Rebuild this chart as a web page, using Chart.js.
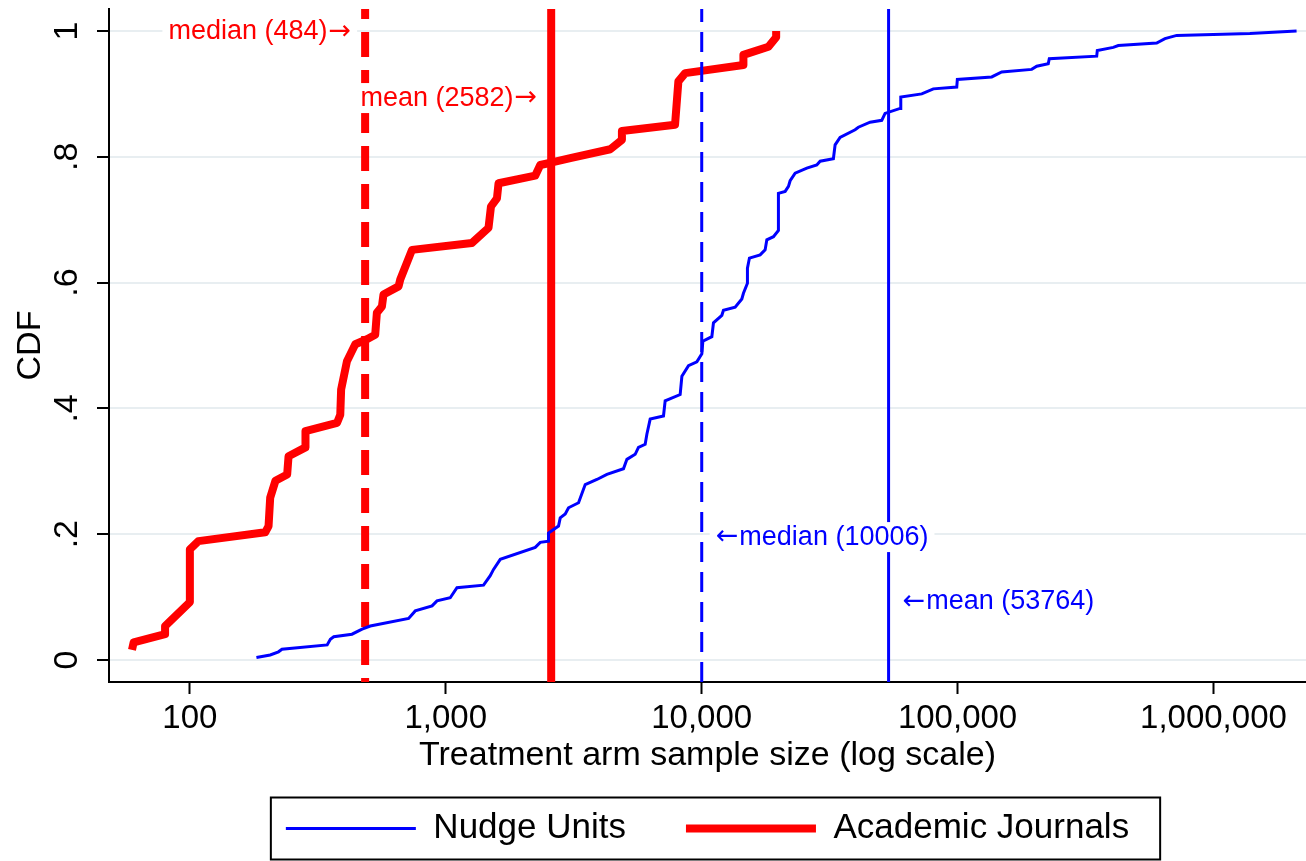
<!DOCTYPE html>
<html lang="en">
<head>
<meta charset="UTF-8">
<title>CDF of treatment arm sample size</title>
<script src="https://cdn.jsdelivr.net/npm/chart.js"></script>
<style>
  html, body { margin: 0; padding: 0; background: #fff; }
  #wrap { width: 1306px; height: 861px; }
</style>
</head>
<body>
<div id="wrap"><canvas id="cdfChart"></canvas></div>
<script>
  // Nudge Units: treatment arm sample size and CDF
  const nudgeN = [182, 206, 222, 229, 344, 354, 365, 430, 471, 507, 716, 760, 884, 924, 1041,
    1106, 1405, 1492, 1537, 1633, 2237, 2340, 2521, 2521, 2758, 2801, 2930, 3018, 3303, 3507,
    3896, 4263, 4949, 5104, 5498, 5664, 6016, 6108, 6293, 7093, 7201, 8241, 8370, 8883, 9578,
    10018, 10109, 10960, 11121, 11993, 12168, 13519, 14356, 14565, 15098, 15098, 15372, 16927, 17702, 17977,
    19080, 19953, 19953, 21200, 21840, 22170, 23190, 25760, 28180, 29040, 32720, 33230, 34750, 39780, 40970,
    45520, 50560, 52090, 59630, 60000, 72470, 80440, 99290, 99820, 136000, 148800, 194900, 203900, 226200, 228300,
    349800, 351700, 406100, 424800, 600000, 646500, 718400, 1388000, 2113000];
  const nudgeCdf = [0.004, 0.008, 0.013, 0.017, 0.024, 0.033, 0.037, 0.041, 0.049, 0.054, 0.066, 0.078, 0.086, 0.094, 0.099,
    0.115, 0.119, 0.134, 0.144, 0.16, 0.179, 0.187, 0.189, 0.202, 0.213, 0.226, 0.232, 0.242, 0.25, 0.279,
    0.287, 0.295, 0.304, 0.319, 0.327, 0.338, 0.343, 0.359, 0.383, 0.388, 0.412, 0.422, 0.451, 0.468, 0.474,
    0.487, 0.507, 0.514, 0.536, 0.548, 0.556, 0.561, 0.574, 0.583, 0.599, 0.623, 0.639, 0.644, 0.652, 0.668,
    0.673, 0.683, 0.742, 0.745, 0.753, 0.762, 0.774, 0.782, 0.787, 0.793, 0.797, 0.819, 0.831, 0.843, 0.847,
    0.855, 0.858, 0.869, 0.877, 0.895, 0.9, 0.908, 0.911, 0.923, 0.927, 0.935, 0.939, 0.944, 0.948, 0.956,
    0.96, 0.969, 0.974, 0.977, 0.981, 0.988, 0.993, 0.996, 1.0];

  // Academic Journals
  const journalN = [59.4, 60.3, 80, 80, 100, 100, 108, 197, 203, 206, 216, 240, 243, 283, 283,
    376, 387, 390, 411, 443, 492, 530, 538, 563, 571, 654, 664, 738, 1265, 1469,
    1502, 1585, 1608, 2236, 2340, 2600, 3065, 4395, 4880, 4880, 7870, 8110, 8625, 14560, 14560,
    18240, 19550, 19550];
  const journalCdf = [0.016, 0.028, 0.041, 0.054, 0.092, 0.176, 0.189, 0.203, 0.213, 0.258, 0.285, 0.295, 0.324, 0.338, 0.364,
    0.377, 0.39, 0.43, 0.475, 0.502, 0.51, 0.517, 0.552, 0.562, 0.581, 0.594, 0.605, 0.652, 0.663, 0.687,
    0.721, 0.734, 0.758, 0.77, 0.787, 0.791, 0.798, 0.812, 0.827, 0.841, 0.851, 0.92, 0.933, 0.946, 0.962,
    0.975, 0.99, 1.0];

  const xTicks = [100, 1000, 10000, 100000, 1000000];
  const yTicks = [0, 0.2, 0.4, 0.6, 0.8, 1];
  const xMin = 48.3, xMax = 2300000;
  const yMin = -0.035, yMax = 1.035;

  // median / mean reference lines
  const refNames = ['median', 'mean', 'median', 'mean'];
  const refValues = [484, 2582, 10006, 53764];
  const refGroup = ['journal', 'journal', 'nudge', 'nudge'];
  const refLabelY = [1.0, 0.895, 0.197, 0.094];

  const RED = '#ff0000';
  const BLUE = '#0000ff';
  const FONT = '"Liberation Sans", Arial, Helvetica, sans-serif';

  Chart.defaults.font.family = FONT;
  Chart.defaults.color = '#000';

  function toPoints(xs, ys) {
    return xs.map((v, i) => ({ x: v, y: ys[i] }));
  }

  function refLine(i) {
    const journal = refGroup[i] === 'journal';
    const dashed = refNames[i] === 'median';
    return {
      data: [{ x: refValues[i], y: yMax }, { x: refValues[i], y: yMin }],
      borderColor: journal ? RED : BLUE,
      borderWidth: journal ? 8 : 3,
      borderDash: dashed ? (journal ? [25, 13] : [20, 10]) : [],
      borderDashOffset: dashed ? (journal ? 15 : 7) : 0,
      borderCapStyle: 'butt',
      pointRadius: 0,
      order: journal ? 2 : 1
    };
  }

  // white-backed text next to the reference lines; arrow glyph from DejaVu (wider arrows)
  const refLabels = {
    id: 'refLabels',
    afterDatasetsDraw(chart) {
      const { ctx, scales: { x, y } } = chart;
      const textFont = '27px ' + FONT;
      const arrowFont = '27px "DejaVu Sans", sans-serif';
      ctx.save();
      ctx.textBaseline = 'middle';
      ctx.textAlign = 'left';
      refValues.forEach((v, i) => {
        const journal = refGroup[i] === 'journal';
        const text = `${refNames[i]} (${v})`;
        const arrow = journal ? '\u2192' : '\u2190';
        ctx.font = textFont;
        const tw = ctx.measureText(text).width;
        ctx.font = arrowFont;
        const aw = ctx.measureText(arrow).width;
        const w = tw + aw + 1;
        const px = x.getPixelForValue(v);
        const py = y.getPixelForValue(refLabelY[i]) + 1;
        const left = journal ? px - 14 - w : px + 14;
        ctx.fillStyle = '#fff';
        ctx.fillRect(left - 6, py - 15, w + 12, 30);
        ctx.fillStyle = journal ? RED : BLUE;
        if (journal) {
          ctx.font = textFont;
          ctx.fillText(text, left, py);
          ctx.font = arrowFont;
          ctx.fillText(arrow, left + tw + 1, py);
        } else {
          ctx.font = arrowFont;
          ctx.fillText(arrow, left, py);
          ctx.font = textFont;
          ctx.fillText(text, left + aw + 1, py);
        }
      });
      ctx.restore();
    }
  };

  // frame around the legend
  const legendFrame = {
    id: 'legendFrame',
    afterDraw(chart) {
      const boxes = chart.legend && chart.legend.legendHitBoxes;
      if (!boxes || !boxes.length) return;
      const left = Math.min(...boxes.map(b => b.left)) - 15;
      const right = Math.max(...boxes.map(b => b.left + b.width)) + 31;
      const cy = boxes[0].top + boxes[0].height / 2;
      const ctx = chart.ctx;
      ctx.save();
      ctx.strokeStyle = '#000';
      ctx.lineWidth = 2;
      ctx.strokeRect(left, cy - 31, right - left, 62);
      ctx.restore();
    }
  };

  new Chart(document.getElementById('cdfChart'), {
    type: 'line',
    data: {
      datasets: [
        {
          label: 'Nudge Units',
          data: toPoints(nudgeN, nudgeCdf),
          borderColor: BLUE,
          backgroundColor: BLUE,
          borderWidth: 3,
          pointRadius: 0,
          order: 0
        },
        {
          label: 'Academic Journals',
          data: toPoints(journalN, journalCdf),
          borderColor: RED,
          backgroundColor: RED,
          borderWidth: 8,
          borderJoinStyle: 'round',
          pointRadius: 0,
          order: 3
        },
        refLine(0), refLine(1), refLine(2), refLine(3)
      ]
    },
    options: {
      responsive: true,
      maintainAspectRatio: false,
      animation: false,
      layout: { padding: { top: 9, right: 0, bottom: 5, left: 0 } },
      plugins: {
        tooltip: { enabled: false },
        legend: {
          position: 'bottom',
          fullSize: false,
          labels: {
            filter: item => item.datasetIndex < 2,
            usePointStyle: true,
            pointStyle: 'line',
            pointStyleWidth: 130,
            padding: 60,
            color: '#000',
            font: { size: 35 }
          }
        }
      },
      scales: {
        x: {
          type: 'logarithmic',
          min: xMin,
          max: xMax,
          afterBuildTicks: s => { s.ticks = xTicks.map(v => ({ value: v, major: true })); },
          ticks: {
            autoSkip: false,
            maxRotation: 0,
            padding: 5,
            color: '#000',
            font: { size: 33 },
            callback: v => Number(v).toLocaleString('en-US')
          },
          grid: { drawOnChartArea: false, tickLength: 12, tickColor: '#000', tickWidth: 2 },
          border: { color: '#000', width: 2 },
          title: {
            display: true,
            text: 'Treatment arm sample size (log scale)',
            color: '#000',
            font: { size: 34 },
            padding: { top: 0, bottom: -25 }
          },
          afterFit: s => { s.height = 69; s.paddingLeft = 0; s.paddingRight = 0; }
        },
        y: {
          type: 'linear',
          min: yMin,
          max: yMax,
          afterBuildTicks: s => { s.ticks = yTicks.map(v => ({ value: v })); },
          ticks: {
            minRotation: 90,
            maxRotation: 90,
            crossAlign: 'center',
            padding: 15,
            color: '#000',
            font: { size: 34 },
            callback: v => (v === 0 ? '0' : v === 1 ? '1' : String(v).replace(/^0/, ''))
          },
          grid: { color: '#e8eef1', lineWidth: 2, tickLength: 12, tickColor: '#000', tickWidth: 2 },
          border: { color: '#000', width: 2 },
          title: {
            display: true,
            text: 'CDF',
            color: '#000',
            font: { size: 34 },
            padding: { top: 10, bottom: 0 }
          },
          afterFit: s => { s.width = 109; s.paddingTop = 0; s.paddingBottom = 0; }
        }
      }
    },
    plugins: [refLabels, legendFrame]
  });
</script>
</body>
</html>
